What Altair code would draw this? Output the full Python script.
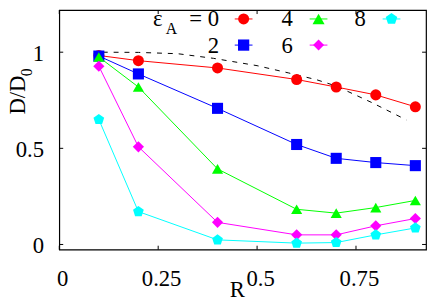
import altair as alt
import pandas as pd

# ---------------- data ----------------
R = [0.1, 0.2, 0.4, 0.6, 0.7, 0.8, 0.9]
eps_labels = ["0", "2", "4", "6", "8"]
D_eps0 = [0.983, 0.956, 0.918, 0.858, 0.819, 0.778, 0.716]
D_eps2 = [0.980, 0.887, 0.708, 0.520, 0.448, 0.426, 0.410]
D_eps4 = [0.975, 0.819, 0.393, 0.183, 0.163, 0.192, 0.229]
D_eps6 = [0.927, 0.508, 0.115, 0.050, 0.050, 0.097, 0.135]
D_eps8 = [0.650, 0.171, 0.024, 0.007, 0.010, 0.050, 0.086]

ref_R = [0.11, 0.2, 0.3, 0.39, 0.5, 0.58, 0.65, 0.7, 0.79, 0.877]
ref_D = [1.0, 0.999, 0.992, 0.968, 0.930, 0.892, 0.857, 0.824, 0.738, 0.648]

x_ticks = [0, 0.25, 0.5, 0.75]
y_ticks = [0, 0.5, 1]

colors = ["#ff0000", "#0000ff", "#00ff00", "#ff00ff", "#00ffff"]
PENT = "M0,-1L0.951,-0.309L0.588,0.809L-0.588,0.809L-0.951,-0.309Z"
shapes = ["circle", "square", "triangle-up", "diamond", PENT]
sizes = [125, 130, 150, 125, 150]

series = [D_eps0, D_eps2, D_eps4, D_eps6, D_eps8]
rows = []
for k, (lab, vals) in enumerate(zip(eps_labels, series)):
    for r, d in zip(R, vals):
        rows.append({"eps": lab, "R": r, "D": d, "k": k})
df = pd.DataFrame(rows)
ref_df = pd.DataFrame({"R": ref_R, "D": ref_D})

# ---------------- layout ----------------
W, H = 372, 243
FONT = "Liberation Serif"
FS = 23
xscale = alt.Scale(domain=[0, 0.927], nice=False, zero=False)
yscale = alt.Scale(domain=[-0.027, 1.219], nice=False, zero=False)

xaxis = alt.Axis(values=x_ticks, labelExpr="'' + datum.value", ticks=False, tickSize=0,
                 domain=False, grid=False, labelFont=FONT, labelFontSize=FS,
                 labelColor="black", labelBaseline="alphabetic", labelPadding=36,
                 labelOffset=3, labelFlush=False, labelOverlap=False,
                 title="R", titleFont=FONT, titleFontSize=FS, titleFontWeight="normal",
                 titleColor="black", titleX=180, titleY=47, titleAlign="center",
                 titleBaseline="alphabetic")
yaxis = alt.Axis(values=y_ticks, labelExpr="'' + datum.value", ticks=False, tickSize=0,
                 domain=False, grid=False, labelFont=FONT, labelFontSize=FS,
                 labelColor="black", labelBaseline="middle", labelPadding=16,
                 labelOffset=1, labelFlush=False, labelOverlap=False, title=None)

X = alt.X("R:Q", scale=xscale, axis=xaxis)
Y = alt.Y("D:Q", scale=yscale, axis=yaxis)
color = alt.Color("eps:N", scale=alt.Scale(domain=eps_labels, range=colors), legend=None)

dashed = alt.Chart(ref_df).mark_line(color="black", strokeWidth=1, strokeDash=[5, 6]).encode(x=X, y=Y)

lines = alt.Chart(df).mark_line(strokeWidth=1).encode(x=X, y=Y, color=color, order="R:Q")

points = alt.Chart(df).mark_point(filled=True, opacity=1).encode(
    x=X, y=Y, color=color,
    shape=alt.Shape("eps:N", scale=alt.Scale(domain=eps_labels, range=shapes), legend=None),
    size=alt.Size("eps:O", scale=alt.Scale(domain=eps_labels, range=sizes), legend=None),
    order="k:Q",
)

# inward ticks on all four sides
xt = pd.DataFrame({"R": x_ticks})
yt = pd.DataFrame({"D": y_ticks})
TL = 4
ticks = [
    alt.Chart(xt).mark_rule(color="black", strokeWidth=1).encode(x=X, y=alt.value(H), y2=alt.value(H - TL)),
    alt.Chart(xt).mark_rule(color="black", strokeWidth=1).encode(x=X, y=alt.value(0), y2=alt.value(TL)),
    alt.Chart(yt).mark_rule(color="black", strokeWidth=1).encode(y=Y, x=alt.value(0), x2=alt.value(TL)),
    alt.Chart(yt).mark_rule(color="black", strokeWidth=1).encode(y=Y, x=alt.value(W), x2=alt.value(W - TL)),
]

one = pd.DataFrame({"a": [0]})


def txt(s, x, y, size=FS, align="left", angle=0):
    return alt.Chart(one).mark_text(font=FONT, fontSize=size, align=align, baseline="alphabetic",
                                    color="black", angle=angle).encode(
        x=alt.value(x), y=alt.value(y), text=alt.value(s))


# y-axis title  D/D_0
ytitle = [
    txt("D/D", -35, 106, angle=270),
    txt("0", -27.5, 67, size=16, angle=270),
]

# key (text right-aligned, sample to its right)
key_pos = {  # label anchor (right edge, baseline) and sample centre, in plot pixels
    "0": (162, 16, 187, 9),
    "2": (162, 44, 187, 35.5),
    "4": (237, 16, 263, 9),
    "6": (237, 44, 263, 35.5),
    "8": (311, 16, 337, 9),
}
key = [txt("\u03b5", 95, 16), txt("A", 108, 24, size=16)]
for k, lab in enumerate(eps_labels):
    tx, ty, sx, sy = key_pos[lab]
    key.append(txt(("= " + lab) if lab == "0" else lab, tx, ty, align="right"))
    key.append(alt.Chart(one).mark_rule(color=colors[k], strokeWidth=1).encode(
        x=alt.value(sx - 9), x2=alt.value(sx + 9), y=alt.value(sy)))
    key.append(alt.Chart(one).mark_point(filled=True, opacity=1, color=colors[k], shape=shapes[k],
                                         size=sizes[k]).encode(x=alt.value(sx), y=alt.value(sy)))

chart = alt.layer(dashed, lines, points, *ticks, *ytitle, *key).properties(
    width=W, height=H,
    autosize=alt.AutoSizeParams(type="none"),
    padding={"left": 52, "top": 0, "right": 2, "bottom": 54},
).configure_view(stroke="black", strokeWidth=1.2)

chart.save("out.html", embed_options={"renderer": "svg", "actions": False})
